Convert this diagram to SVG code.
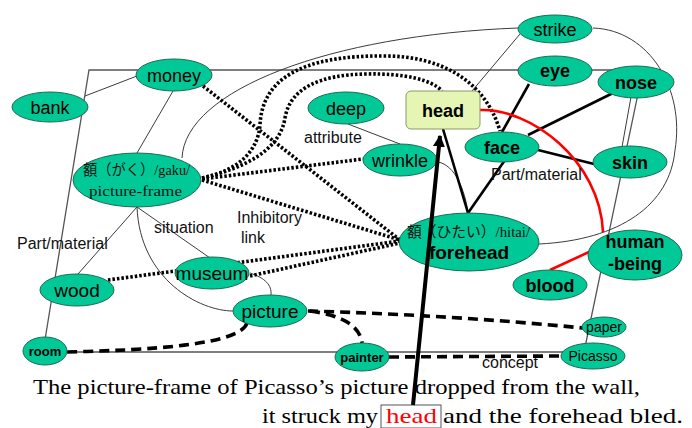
<svg xmlns="http://www.w3.org/2000/svg" width="692" height="428" viewBox="0 0 692 428">
  <style>
    .thin { stroke:#3c3c3c; stroke-width:1; fill:none; }
    .edge { stroke:#555; stroke-width:1.3; fill:none; }
    .bold { stroke:#000; stroke-width:2.6; fill:none; }
    .dot  { stroke:#000; stroke-width:3.6; stroke-dasharray:2.5 2; fill:none; }
    .dash { stroke:#000; stroke-width:3.6; stroke-dasharray:10 6; fill:none; }
    .red  { stroke:#ff0000; stroke-width:2.6; fill:none; }
    .node ellipse { fill:#00c997; stroke:#1d6b4f; stroke-width:1; }
    .lbl  { font-family:"Liberation Sans", Arial, sans-serif; font-size:18px; fill:#000; text-anchor:middle; }
    .b    { font-weight:bold; }
    .sm   { font-size:14px; }
    .rel  { font-family:"Liberation Sans", Arial, sans-serif; font-size:16px; fill:#111; }
    .jp   { font-family:"Liberation Serif", "Noto Sans CJK JP", serif; font-size:15px; fill:#111; }
    .sent { font-family:"Liberation Serif", "Times New Roman", serif; font-size:21px; fill:#000; }
  </style>
  <defs>
    <marker id="tip" viewBox="0 0 10 10" refX="9" refY="5" markerWidth="3" markerHeight="3.2" orient="auto" markerUnits="strokeWidth">
      <path d="M0,0 L10,5 L0,10 Z" fill="#000"/>
    </marker>
  </defs>

  <rect width="692" height="428" fill="#fff"/>

  <g id="connectors">
    <!-- plane outline -->
    <path class="edge" d="M89,70 L643,70 L584,352 L43,352 Z"/>

    <!-- thin associative links -->
    <line class="thin" x1="85" y1="96" x2="137" y2="76"/>
    <line class="thin" x1="173" y1="91" x2="137" y2="153"/>
    <path class="thin" d="M182,158 C185,90 330,35 518,28"/>
    <line class="thin" x1="520" y1="34" x2="472" y2="91"/>
    <path class="thin" d="M593,28 C650,30 685,90 675,150 C670,205 620,240 539,244"/>
    <line class="thin" x1="631" y1="97" x2="622" y2="147"/>
    <line class="thin" x1="348" y1="124" x2="400" y2="144"/>
    <path class="thin" d="M438,162 C455,165 465,190 468,213"/>
    <line class="thin" x1="137" y1="207" x2="78" y2="274"/>
    <line class="thin" x1="137" y1="207" x2="210" y2="258"/>
    <path class="thin" d="M137,207 C140,280 200,311 233,311"/>
    <path class="thin" d="M250,273 C265,278 272,285 271,295"/>

    <!-- part/material links -->
    <line class="bold" x1="529" y1="84" x2="502" y2="132"/>
    <line class="bold" x1="505" y1="160" x2="468" y2="213"/>
    <line class="bold" x1="528" y1="135" x2="613" y2="93"/>
    <line class="bold" x1="538" y1="150" x2="594" y2="164"/>
    <line class="bold" x1="443" y1="129" x2="468" y2="213"/>

    <!-- inhibitory links -->
    <line class="dot" x1="203" y1="86" x2="400" y2="240"/>
    <line class="dot" x1="202" y1="180" x2="400" y2="240"/>
    <line class="dot" x1="202" y1="179" x2="363" y2="159"/>
    <path class="dot" d="M202,178 C240,170 258,150 260,125 C262,80 300,55 385,56 C440,56 485,80 500,131"/>
    <path class="dot" d="M202,178 C245,168 280,150 285,118 C290,88 320,75 365,74 C405,73 432,80 442,91"/>
    <line class="dot" x1="108" y1="280" x2="400" y2="241"/>
    <line class="dot" x1="250" y1="276" x2="400" y2="243"/>

    <!-- concept links -->
    <path class="dash" d="M247,323 C240,345 150,350 67,352"/>
    <path class="dash" d="M308,311 Q450,315 583,328"/>
    <path class="dash" d="M310,311 C340,315 360,325 362,343"/>
    <line class="dash" x1="389" y1="357" x2="561" y2="356"/>

    <!-- red links -->
    <path class="red" d="M480,110 C530,108 600,160 603,232"/>
    <line class="red" x1="550" y1="270" x2="589" y2="252"/>
  </g>

  <!-- relation labels -->
  <g id="labels">
    <text class="rel" x="304" y="143">attribute</text>
    <text class="rel" x="17" y="249">Part/material</text>
    <text class="rel" x="154" y="233">situation</text>
    <text class="rel" x="237" y="223">Inhibitory</text>
    <text class="rel" x="241" y="243">link</text>
    <text class="rel" x="491" y="180">Part/material</text>
    <text class="rel" x="482" y="368">concept</text>
  </g>

  <g id="bank" class="node"><ellipse cx="50" cy="107" rx="38" ry="15"/><text class="lbl" x="50" y="114">bank</text></g>
  <g id="money" class="node"><ellipse cx="174" cy="75" rx="38" ry="16"/><text class="lbl" x="174" y="82">money</text></g>
  <g id="gaku" class="node">
    <ellipse cx="137" cy="180" rx="64" ry="27"/>
    <text class="jp" x="83" y="175" textLength="107" lengthAdjust="spacingAndGlyphs">額（がく）/gaku/</text>
    <text class="jp" x="89" y="196" textLength="93" lengthAdjust="spacingAndGlyphs">picture-frame</text>
  </g>
  <g id="deep" class="node"><ellipse cx="346" cy="108" rx="38" ry="16"/><text class="lbl" x="346" y="115">deep</text></g>
  <g id="head" class="node">
    <rect x="406" y="91" width="74" height="38" rx="5" fill="#e4f5b4" stroke="#8a9a64" stroke-width="1"/>
    <text class="lbl b" x="443" y="117">head</text>
  </g>
  <g id="wrinkle" class="node"><ellipse cx="400" cy="160" rx="37" ry="16"/><text class="lbl" x="400" y="167">wrinkle</text></g>
  <g id="face" class="node"><ellipse cx="502" cy="147" rx="37" ry="15"/><text class="lbl b" x="502" y="154">face</text></g>
  <g id="strike" class="node"><ellipse cx="555" cy="29" rx="37" ry="14"/><text class="lbl" x="555" y="36">strike</text></g>
  <g id="eye" class="node"><ellipse cx="555" cy="71" rx="37" ry="15"/><text class="lbl b" x="555" y="77">eye</text></g>
  <g id="nose" class="node"><ellipse cx="636" cy="82" rx="38" ry="16"/><text class="lbl b" x="636" y="89">nose</text></g>
  <g id="skin" class="node"><ellipse cx="630" cy="162" rx="37" ry="16"/><text class="lbl b" x="630" y="169">skin</text></g>
  <g id="forehead" class="node">
    <ellipse cx="469" cy="242" rx="70" ry="29"/>
    <text class="jp" x="407" y="237" textLength="123" lengthAdjust="spacingAndGlyphs">額（ひたい）/hitai/</text>
    <text class="lbl b" x="469" y="259" style="font-size:19px">forehead</text>
  </g>
  <g id="human-being" class="node">
    <ellipse cx="635" cy="255" rx="47" ry="25"/>
    <text class="lbl b" x="635" y="248">human</text>
    <text class="lbl b" x="635" y="270">-being</text>
  </g>
  <g id="blood" class="node"><ellipse cx="550" cy="285" rx="37" ry="15"/><text class="lbl b" x="550" y="292">blood</text></g>
  <g id="paper" class="node"><ellipse cx="604" cy="327" rx="22" ry="10"/><text class="lbl sm" x="604" y="332">paper</text></g>
  <g id="Picasso" class="node"><ellipse cx="593" cy="356" rx="32" ry="13"/><text class="lbl sm" x="593" y="361">Picasso</text></g>
  <g id="painter" class="node"><ellipse cx="362" cy="357" rx="27" ry="14"/><text class="lbl sm b" x="362" y="362" style="font-size:13px">painter</text></g>
  <g id="picture" class="node"><ellipse cx="270" cy="311" rx="37" ry="16"/><text class="lbl" x="270" y="318" style="font-size:19px">picture</text></g>
  <g id="museum" class="node"><ellipse cx="212" cy="273" rx="37" ry="16"/><text class="lbl" x="212" y="280" style="font-size:19px">museum</text></g>
  <g id="wood" class="node"><ellipse cx="77" cy="290" rx="37" ry="16"/><text class="lbl" x="77" y="297" style="font-size:19px">wood</text></g>
  <g id="room" class="node"><ellipse cx="45" cy="351" rx="22" ry="14"/><text class="lbl sm b" x="45" y="356" style="font-size:13px">room</text></g>

  <!-- sentence -->
  <g id="sentence">
    <text class="sent" x="33" y="394" textLength="607" lengthAdjust="spacingAndGlyphs">The picture-frame of Picasso’s picture dropped from the wall,</text>
    <text class="sent" x="262" y="423" textLength="116" lengthAdjust="spacingAndGlyphs">it struck my</text>
    <rect x="381" y="405" width="60" height="23" fill="#fff" stroke="#555" stroke-width="1"/>
    <text class="sent" x="386" y="423" fill="#ff0000" style="fill:#ff0000" textLength="51" lengthAdjust="spacingAndGlyphs">head</text>
    <text class="sent" x="443" y="423" textLength="240" lengthAdjust="spacingAndGlyphs">and the forehead bled.</text>
  </g>

  <!-- pointer from the sentence word to the head node -->
  <g id="pointer">
    <line x1="413" y1="405" x2="440" y2="136" stroke="#000" stroke-width="4" marker-end="url(#tip)"/>
  </g>
</svg>
